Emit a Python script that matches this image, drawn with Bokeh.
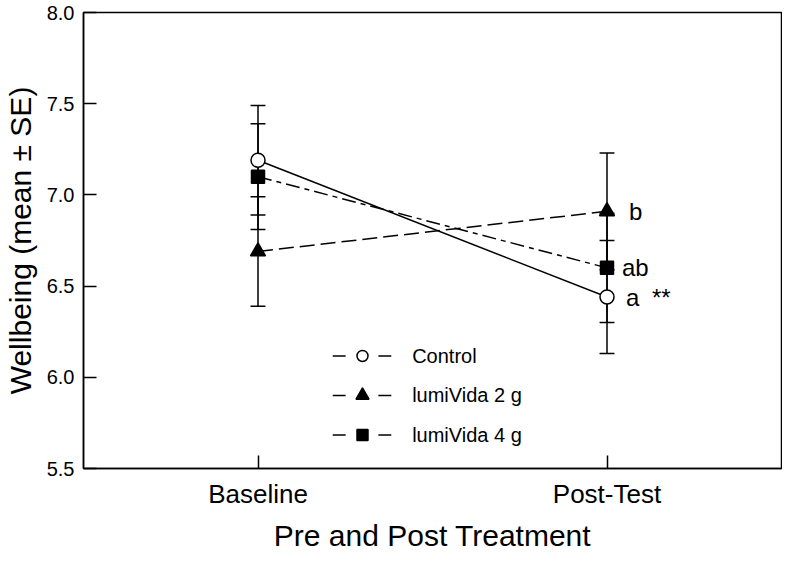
from bokeh.plotting import figure
from bokeh.models import Range1d, FixedTicker
from bokeh.core.properties import value
from bokeh.embed import file_html
from bokeh.resources import INLINE

# ---------------- data ----------------
timepoints = ["Baseline", "Post-Test"]
groups = ["Control", "lumiVida 2 g", "lumiVida 4 g"]
control_mean = [7.19, 6.44]
control_se = [0.30, 0.31]
g2_mean = [6.69, 6.91]
g2_se = [0.30, 0.32]
g4_mean = [7.10, 6.60]
g4_se = [0.29, 0.30]
post_letters = ["a", "b", "ab"]          # Control, 2 g, 4 g at Post-Test
post_stars = ["**", "", ""]
y_ticks = [5.5, 6.0, 6.5, 7.0, 7.5, 8.0]

FONT = "Liberation Sans"
X0, X1 = 0.5, 2.5
Y0, Y1 = 5.5, 8.0
# frame geometry (page pixels)
FL, FR, FT, FB = 86, 789, 20, 482
FW, FH = FR - FL, FB - FT

def px_to_x(px):
    return X0 + (px - FL) * (X1 - X0) / FW

def py_to_y(py):
    return Y1 - (py - FT) * (Y1 - Y0) / FH

def dx(px):
    return px * (X1 - X0) / FW

xs = [i + 1 for i in range(len(timepoints))]

p = figure(width=782, height=554, output_backend="svg", toolbar_location=None,
           x_range=Range1d(X0, X1), y_range=Range1d(Y0, Y1),
           min_border_left=FL - 8, min_border_right=790 - FR, min_border_top=FT - 8,
           min_border_bottom=562 - FB)
p.xgrid.visible = False
p.ygrid.visible = False
p.outline_line_color = "black"
p.outline_line_width = 1.5
p.background_fill_color = "white"
p.border_fill_color = "white"

series = [
    dict(mean=control_mean, se=control_se, marker="circle", size=14, fill="white", dash="solid", lsize=11),
    dict(mean=g2_mean, se=g2_se, marker="triangle", size=15, fill="black", dash="15 6", lsize=13),
    dict(mean=g4_mean, se=g4_se, marker="square", size=13, fill="black", dash="14 5 5 5", lsize=11),
]

cap = dx(7.5)
# error bars
for s in series:
    lo = [m - e for m, e in zip(s["mean"], s["se"])]
    hi = [m + e for m, e in zip(s["mean"], s["se"])]
    p.segment(x0=xs, y0=lo, x1=xs, y1=hi, line_color="black", line_width=1.5)
    p.segment(x0=[x - cap for x in xs], y0=hi, x1=[x + cap for x in xs], y1=hi, line_color="black", line_width=1.5)
    p.segment(x0=[x - cap for x in xs], y0=lo, x1=[x + cap for x in xs], y1=lo, line_color="black", line_width=1.5)

# lines
for s in series:
    p.line(xs, s["mean"], line_color="black", line_width=1.5, line_dash=s["dash"])

# markers
for s in series:
    p.scatter(xs, s["mean"], marker=s["marker"], size=s["size"], fill_color=s["fill"],
              line_color="black", line_width=1.5)

# significance letters at Post-Test
post_vals = [control_mean[1], g2_mean[1], g4_mean[1]]
letter_off = [19, 22, 15]
for v, lab, st, off in zip(post_vals, post_letters, post_stars, letter_off):
    p.text(x=[xs[1]], y=[v], text=[lab], x_offset=off, y_offset=0,
           text_font=value(FONT), text_font_size="24px", text_align="left",
           text_baseline="middle", text_color="black")
    if st:
        p.text(x=[xs[1]], y=[v], text=[st], x_offset=off + 26, y_offset=0,
               text_font=value(FONT), text_font_size="24px", text_align="left",
               text_baseline="middle", text_color="black")

# legend (drawn manually); row positions in page pixels
leg_rows_py = [368, 408, 448]
leg_x_py = 337
for s, name, rpy in zip(series, groups, leg_rows_py):
    yv = py_to_y(rpy)
    xa = px_to_x(leg_x_py)
    p.segment(x0=[xa], y0=[yv], x1=[xa + dx(13)], y1=[yv], line_color="black", line_width=1.5)
    p.segment(x0=[xa + dx(46)], y0=[yv], x1=[xa + dx(59)], y1=[yv], line_color="black", line_width=1.5)
    p.scatter([xa + dx(30)], [yv], marker=s["marker"], size=s["lsize"], fill_color=s["fill"],
              line_color="black", line_width=1.5)
    p.text(x=[xa + dx(80)], y=[yv], text=[name], text_font=value(FONT), text_font_size="20px",
           text_align="left", text_baseline="middle", text_color="black")

# axes
xa_ = p.xaxis[0]
xa_.ticker = FixedTicker(ticks=xs)
xa_.major_label_overrides = {x: t for x, t in zip(xs, timepoints)}
xa_.axis_label = "Pre and Post Treatment"
ya_ = p.yaxis[0]
ya_.ticker = FixedTicker(ticks=y_ticks)
ya_.major_label_overrides = {t: f"{t:.1f}" for t in y_ticks}
ya_.axis_label = "Wellbeing (mean \u00b1 SE)"

for ax in (xa_, ya_):
    ax.axis_line_color = "black"
    ax.axis_line_width = 1.5
    ax.major_tick_in = 13
    ax.major_tick_out = 0
    ax.major_tick_line_width = 1.5
    ax.major_tick_line_color = "black"
    ax.minor_tick_line_color = None
    ax.major_label_text_font = FONT
    ax.major_label_text_color = "black"
    ax.axis_label_text_font = FONT
    ax.axis_label_text_font_style = "normal"
    ax.axis_label_text_color = "black"
    ax.axis_label_text_font_size = "30px"

xa_.major_label_text_font_size = "26px"
xa_.major_label_standoff = 10
xa_.axis_label_standoff = 7
ya_.major_label_text_font_size = "20px"
ya_.major_label_standoff = 9
ya_.axis_label_standoff = 7

open("out.html", "w").write(file_html(p, INLINE))
